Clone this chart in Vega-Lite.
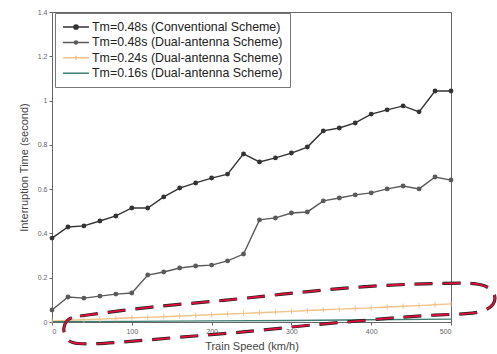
{
  "$schema": "https://vega.github.io/schema/vega-lite/v6.json",
  "width": 399,
  "height": 310,
  "autosize": {"type": "none"},
  "padding": {"left": 52, "top": 12, "right": 46, "bottom": 32},
  "background": "white",
  "config": {
    "view": {"stroke": "#666", "strokeWidth": 1},
    "font": "Liberation Sans",
    "axis": {"grid": false, "domainColor": "#666", "tickColor": "#666", "labelColor": "#666", "labelFontSize": 7, "titleColor": "#444", "titleFontSize": 11, "titleFontWeight": "normal", "tickSize": 3}
  },
  "datasets": {
    "series": [
      {"s": "Tm=0.48s (Conventional Scheme)", "v": 0, "t": 0.379},
      {"s": "Tm=0.48s (Conventional Scheme)", "v": 20, "t": 0.429},
      {"s": "Tm=0.48s (Conventional Scheme)", "v": 40, "t": 0.434},
      {"s": "Tm=0.48s (Conventional Scheme)", "v": 60, "t": 0.456},
      {"s": "Tm=0.48s (Conventional Scheme)", "v": 80, "t": 0.479},
      {"s": "Tm=0.48s (Conventional Scheme)", "v": 100, "t": 0.515},
      {"s": "Tm=0.48s (Conventional Scheme)", "v": 120, "t": 0.515},
      {"s": "Tm=0.48s (Conventional Scheme)", "v": 140, "t": 0.565},
      {"s": "Tm=0.48s (Conventional Scheme)", "v": 160, "t": 0.605},
      {"s": "Tm=0.48s (Conventional Scheme)", "v": 180, "t": 0.628},
      {"s": "Tm=0.48s (Conventional Scheme)", "v": 200, "t": 0.650},
      {"s": "Tm=0.48s (Conventional Scheme)", "v": 220, "t": 0.668},
      {"s": "Tm=0.48s (Conventional Scheme)", "v": 240, "t": 0.759},
      {"s": "Tm=0.48s (Conventional Scheme)", "v": 260, "t": 0.723},
      {"s": "Tm=0.48s (Conventional Scheme)", "v": 280, "t": 0.741},
      {"s": "Tm=0.48s (Conventional Scheme)", "v": 300, "t": 0.763},
      {"s": "Tm=0.48s (Conventional Scheme)", "v": 320, "t": 0.790},
      {"s": "Tm=0.48s (Conventional Scheme)", "v": 340, "t": 0.863},
      {"s": "Tm=0.48s (Conventional Scheme)", "v": 360, "t": 0.876},
      {"s": "Tm=0.48s (Conventional Scheme)", "v": 380, "t": 0.899},
      {"s": "Tm=0.48s (Conventional Scheme)", "v": 400, "t": 0.939},
      {"s": "Tm=0.48s (Conventional Scheme)", "v": 420, "t": 0.958},
      {"s": "Tm=0.48s (Conventional Scheme)", "v": 440, "t": 0.976},
      {"s": "Tm=0.48s (Conventional Scheme)", "v": 460, "t": 0.949},
      {"s": "Tm=0.48s (Conventional Scheme)", "v": 480, "t": 1.043},
      {"s": "Tm=0.48s (Conventional Scheme)", "v": 500, "t": 1.043},
      {"s": "Tm=0.48s (Dual-antenna Scheme)", "v": 0, "t": 0.054},
      {"s": "Tm=0.48s (Dual-antenna Scheme)", "v": 20, "t": 0.113},
      {"s": "Tm=0.48s (Dual-antenna Scheme)", "v": 40, "t": 0.108},
      {"s": "Tm=0.48s (Dual-antenna Scheme)", "v": 60, "t": 0.117},
      {"s": "Tm=0.48s (Dual-antenna Scheme)", "v": 80, "t": 0.126},
      {"s": "Tm=0.48s (Dual-antenna Scheme)", "v": 100, "t": 0.131},
      {"s": "Tm=0.48s (Dual-antenna Scheme)", "v": 120, "t": 0.212},
      {"s": "Tm=0.48s (Dual-antenna Scheme)", "v": 140, "t": 0.226},
      {"s": "Tm=0.48s (Dual-antenna Scheme)", "v": 160, "t": 0.244},
      {"s": "Tm=0.48s (Dual-antenna Scheme)", "v": 180, "t": 0.253},
      {"s": "Tm=0.48s (Dual-antenna Scheme)", "v": 200, "t": 0.257},
      {"s": "Tm=0.48s (Dual-antenna Scheme)", "v": 220, "t": 0.276},
      {"s": "Tm=0.48s (Dual-antenna Scheme)", "v": 240, "t": 0.307},
      {"s": "Tm=0.48s (Dual-antenna Scheme)", "v": 260, "t": 0.461},
      {"s": "Tm=0.48s (Dual-antenna Scheme)", "v": 280, "t": 0.470},
      {"s": "Tm=0.48s (Dual-antenna Scheme)", "v": 300, "t": 0.492},
      {"s": "Tm=0.48s (Dual-antenna Scheme)", "v": 320, "t": 0.497},
      {"s": "Tm=0.48s (Dual-antenna Scheme)", "v": 340, "t": 0.547},
      {"s": "Tm=0.48s (Dual-antenna Scheme)", "v": 360, "t": 0.560},
      {"s": "Tm=0.48s (Dual-antenna Scheme)", "v": 380, "t": 0.574},
      {"s": "Tm=0.48s (Dual-antenna Scheme)", "v": 400, "t": 0.583},
      {"s": "Tm=0.48s (Dual-antenna Scheme)", "v": 420, "t": 0.601},
      {"s": "Tm=0.48s (Dual-antenna Scheme)", "v": 440, "t": 0.614},
      {"s": "Tm=0.48s (Dual-antenna Scheme)", "v": 460, "t": 0.601},
      {"s": "Tm=0.48s (Dual-antenna Scheme)", "v": 480, "t": 0.655},
      {"s": "Tm=0.48s (Dual-antenna Scheme)", "v": 500, "t": 0.641},
      {"s": "Tm=0.24s (Dual-antenna Scheme)", "v": 0, "t": 0.004},
      {"s": "Tm=0.24s (Dual-antenna Scheme)", "v": 20, "t": 0.008},
      {"s": "Tm=0.24s (Dual-antenna Scheme)", "v": 40, "t": 0.010},
      {"s": "Tm=0.24s (Dual-antenna Scheme)", "v": 60, "t": 0.013},
      {"s": "Tm=0.24s (Dual-antenna Scheme)", "v": 80, "t": 0.016},
      {"s": "Tm=0.24s (Dual-antenna Scheme)", "v": 100, "t": 0.019},
      {"s": "Tm=0.24s (Dual-antenna Scheme)", "v": 120, "t": 0.021},
      {"s": "Tm=0.24s (Dual-antenna Scheme)", "v": 140, "t": 0.024},
      {"s": "Tm=0.24s (Dual-antenna Scheme)", "v": 160, "t": 0.027},
      {"s": "Tm=0.24s (Dual-antenna Scheme)", "v": 180, "t": 0.030},
      {"s": "Tm=0.24s (Dual-antenna Scheme)", "v": 200, "t": 0.033},
      {"s": "Tm=0.24s (Dual-antenna Scheme)", "v": 220, "t": 0.036},
      {"s": "Tm=0.24s (Dual-antenna Scheme)", "v": 240, "t": 0.039},
      {"s": "Tm=0.24s (Dual-antenna Scheme)", "v": 260, "t": 0.042},
      {"s": "Tm=0.24s (Dual-antenna Scheme)", "v": 280, "t": 0.045},
      {"s": "Tm=0.24s (Dual-antenna Scheme)", "v": 300, "t": 0.048},
      {"s": "Tm=0.24s (Dual-antenna Scheme)", "v": 320, "t": 0.052},
      {"s": "Tm=0.24s (Dual-antenna Scheme)", "v": 340, "t": 0.055},
      {"s": "Tm=0.24s (Dual-antenna Scheme)", "v": 360, "t": 0.058},
      {"s": "Tm=0.24s (Dual-antenna Scheme)", "v": 380, "t": 0.061},
      {"s": "Tm=0.24s (Dual-antenna Scheme)", "v": 400, "t": 0.064},
      {"s": "Tm=0.24s (Dual-antenna Scheme)", "v": 420, "t": 0.068},
      {"s": "Tm=0.24s (Dual-antenna Scheme)", "v": 440, "t": 0.071},
      {"s": "Tm=0.24s (Dual-antenna Scheme)", "v": 460, "t": 0.074},
      {"s": "Tm=0.24s (Dual-antenna Scheme)", "v": 480, "t": 0.078},
      {"s": "Tm=0.24s (Dual-antenna Scheme)", "v": 500, "t": 0.082},
      {"s": "Tm=0.16s (Dual-antenna Scheme)", "v": 0, "t": 0.001},
      {"s": "Tm=0.16s (Dual-antenna Scheme)", "v": 100, "t": 0.003},
      {"s": "Tm=0.16s (Dual-antenna Scheme)", "v": 200, "t": 0.005},
      {"s": "Tm=0.16s (Dual-antenna Scheme)", "v": 300, "t": 0.007},
      {"s": "Tm=0.16s (Dual-antenna Scheme)", "v": 400, "t": 0.010},
      {"s": "Tm=0.16s (Dual-antenna Scheme)", "v": 500, "t": 0.013}
    ],
    "loop": [
      {"o": 0, "x": 35.1, "y": 0.027},
      {"o": 1, "x": 119.0, "y": 0.068},
      {"o": 2, "x": 223.1, "y": 0.099},
      {"o": 3, "x": 276.9, "y": 0.122},
      {"o": 4, "x": 402.3, "y": 0.167},
      {"o": 5, "x": 502.5, "y": 0.176},
      {"o": 6, "x": 530.1, "y": 0.176},
      {"o": 7, "x": 548.9, "y": 0.158},
      {"o": 8, "x": 556.4, "y": 0.117},
      {"o": 9, "x": 553.9, "y": 0.077},
      {"o": 10, "x": 542.6, "y": 0.050},
      {"o": 11, "x": 523.8, "y": 0.036},
      {"o": 12, "x": 473.7, "y": 0.032},
      {"o": 13, "x": 427.3, "y": 0.018},
      {"o": 14, "x": 319.5, "y": -0.014},
      {"o": 15, "x": 244.4, "y": -0.045},
      {"o": 16, "x": 160.4, "y": -0.068},
      {"o": 17, "x": 76.4, "y": -0.095},
      {"o": 18, "x": 26.3, "y": -0.104},
      {"o": 19, "x": 16.3, "y": -0.072},
      {"o": 20, "x": 13.8, "y": -0.027},
      {"o": 21, "x": 17.5, "y": 0.005},
      {"o": 22, "x": 25.1, "y": 0.023},
      {"o": 23, "x": 35.1, "y": 0.027}
    ]
  },
  "layer": [
    {
      "data": {"name": "series"},
      "mark": {"type": "point", "filled": false, "opacity": 0, "strokeWidth": 1.5},
      "encoding": {
        "x": {"field": "v", "type": "quantitative", "scale": {"domain": [0, 500], "nice": false}, "axis": {"title": "Train Speed (km/h)", "values": [0, 100, 200, 300, 400, 500], "titlePadding": 6}},
        "y": {"field": "t", "type": "quantitative", "scale": {"domain": [0, 1.4], "nice": false}, "axis": {"title": "Interruption Time (second)", "values": [0, 0.2, 0.4, 0.6, 0.8, 1, 1.2, 1.4], "labelExpr": "'' + datum.value", "titlePadding": 8}},
        "color": {"field": "s", "type": "nominal", "sort": null, "scale": {"domain": ["Tm=0.48s (Conventional Scheme)", "Tm=0.48s (Dual-antenna Scheme)", "Tm=0.24s (Dual-antenna Scheme)", "Tm=0.16s (Dual-antenna Scheme)"], "range": ["#333333", "#5a5a5a", "#efc38a", "#3f7f72"]}, "legend": {"title": null, "orient": "none", "legendX": 3, "legendY": 1, "padding": 7, "strokeColor": "#777", "fillColor": "white", "labelFontSize": 12.4, "labelColor": "#222", "symbolSize": 144, "symbolStrokeWidth": 1.5, "symbolOpacity": 1, "rowPadding": 1.4, "labelLimit": 300, "labelOffset": 16}},
        "shape": {"field": "s", "type": "nominal", "sort": null, "scale": {"domain": ["Tm=0.48s (Conventional Scheme)", "Tm=0.48s (Dual-antenna Scheme)", "Tm=0.24s (Dual-antenna Scheme)", "Tm=0.16s (Dual-antenna Scheme)"], "range": ["M-1,0H3.33M0.82,0A0.35,0.35 0 1,1 1.52,0A0.35,0.35 0 1,1 0.82,0", "M-1,0H3.33M0.92,0A0.25,0.25 0 1,1 1.42,0A0.25,0.25 0 1,1 0.92,0", "M-1,0H3.33M1.17,-0.35V0.35", "M-1,0H3.33"]}, "legend": {"title": null}}
      }
    },
    {
      "data": {"name": "series"},
      "mark": {"type": "line", "strokeWidth": 1.4},
      "encoding": {
        "x": {"field": "v", "type": "quantitative"},
        "y": {"field": "t", "type": "quantitative"},
        "color": {"field": "s", "type": "nominal", "sort": null}
      }
    },
    {
      "data": {"name": "series"},
      "transform": [{"filter": "datum.s == 'Tm=0.48s (Conventional Scheme)' || datum.s == 'Tm=0.48s (Dual-antenna Scheme)'"}],
      "mark": {"type": "point", "filled": true, "shape": "circle", "size": 24, "opacity": 1},
      "encoding": {
        "x": {"field": "v", "type": "quantitative"},
        "y": {"field": "t", "type": "quantitative"},
        "color": {"field": "s", "type": "nominal", "sort": null}
      }
    },
    {
      "data": {"name": "series"},
      "transform": [{"filter": "datum.s == 'Tm=0.24s (Dual-antenna Scheme)'"}],
      "mark": {"type": "point", "filled": false, "shape": "M0,-1V1", "size": 30, "strokeWidth": 1, "opacity": 1},
      "encoding": {
        "x": {"field": "v", "type": "quantitative"},
        "y": {"field": "t", "type": "quantitative"},
        "color": {"field": "s", "type": "nominal", "sort": null}
      }
    },
    {
      "data": {"name": "loop"},
      "mark": {"type": "line", "clip": false, "color": "#222", "strokeWidth": 3.2, "strokeDash": [18, 10], "interpolate": "basis"},
      "encoding": {
        "x": {"field": "x", "type": "quantitative"},
        "y": {"field": "y", "type": "quantitative"},
        "order": {"field": "o", "type": "quantitative"}
      }
    },
    {
      "data": {"name": "loop"},
      "mark": {"type": "line", "clip": false, "color": "#e0103a", "strokeWidth": 1.8, "strokeDash": [18, 10], "interpolate": "basis"},
      "encoding": {
        "x": {"field": "x", "type": "quantitative"},
        "y": {"field": "y", "type": "quantitative"},
        "order": {"field": "o", "type": "quantitative"}
      }
    }
  ]
}
